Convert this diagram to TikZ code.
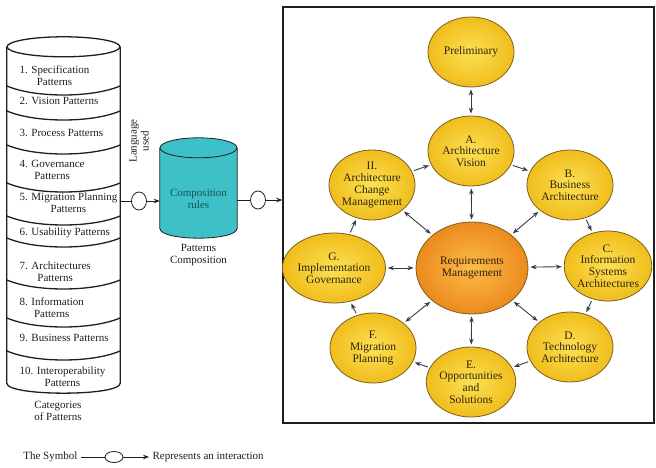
\documentclass[tikz,border=0pt]{standalone}
\usepackage{fontspec}
\setmainfont{Liberation Serif}
\usepackage{tikz}
\usetikzlibrary{positioning,calc,shapes.geometric,arrows.meta}
\usepackage{xcolor}
\definecolor{ink}{RGB}{30,30,30}
\definecolor{wire}{RGB}{55,60,72}
\definecolor{sunlight}{RGB}{253,224,84}
\definecolor{sundark}{RGB}{240,189,28}
\definecolor{rim}{RGB}{125,95,30}
\definecolor{emberlight}{RGB}{251,188,72}
\definecolor{emberdark}{RGB}{236,138,28}
\definecolor{lagoon}{RGB}{62,192,200}
\definecolor{lagoontext}{RGB}{25,80,85}
\definecolor{phasetext}{RGB}{45,35,15}

\begin{document}
\begin{tikzpicture}[
  x=1pt, y=-1pt,
  >={Stealth[length=6pt,width=4.5pt]},
  phase/.style={ellipse, draw=rim, line width=0.8pt, inner color=sunlight,
    outer color=sundark, minimum width=86pt, minimum height=70pt,
    align=center, inner sep=0pt, text=phasetext,
    font=\fontsize{11.5}{11.7}\selectfont},
  patt/.style={anchor=west, align=center, text=ink,
    font=\fontsize{11}{12}\selectfont},
  caption/.style={align=center, text=ink, font=\fontsize{11}{12}\selectfont},
  bead/.style={ellipse, draw=ink, thick, minimum width=15pt,
    minimum height=18pt, inner sep=0pt},
  link/.style={draw=wire, line width=0.9pt, shorten >=2pt, shorten <=2pt},
  wall/.style={draw=ink, line width=1.3pt}
]
  \useasboundingbox (0,0) rectangle (656,468);

  % categories of patterns (left cylinder)
  \node[minimum width=113pt, minimum height=336pt, inner sep=0pt] (cat) at (63.5,215) {};
  \draw[wall] (cat.north west) -- (cat.south west)
    .. controls +(0,13.3) and +(0,13.3) .. (cat.south east) -- (cat.north east);
  \draw[wall] (cat.north) ellipse [x radius=56.5pt, y radius=10pt];
  \foreach \y in {86,111,145,183,216,238,280,318,351}
    \draw[wall] (7,\y) .. controls (35,\y+12) and (92,\y+12) .. (120,\y);

  \node[patt] (p1) at (16,76) {1. Specification\\Patterns};
  \node[patt] (p2) at (16,101) {2. Vision Patterns};
  \node[patt] (p3) at (16,133) {3. Process Patterns};
  \node[patt] (p4) at (16,170) {4. Governance\\Patterns};
  \node[patt] (p5) at (16,203) {5. Migration Planning\\Patterns};
  \node[patt] (p6) at (16,233) {6. Usability Patterns};
  \node[patt] (p7) at (16,272) {7. Architectures\\Patterns};
  \node[patt] (p8) at (16,308) {8. Information\\Patterns};
  \node[patt] (p9) at (16,338) {9. Business Patterns};
  \node[patt] (p10) at (16,377) {10. Interoperability\\Patterns};
  \node[caption] (catname) at (58,411) {Categories\\of Patterns};

  % composition (teal cylinder)
  \node[minimum width=77pt, minimum height=80pt, inner sep=0pt] (comp) at (198.5,188) {};
  \draw[draw=ink, thick, fill=lagoon] (comp.north west) -- (comp.south west)
    .. controls +(0,13.3) and +(0,13.3) .. (comp.south east) -- (comp.north east);
  \draw[draw=ink, thick, fill=lagoon] (comp.north) ellipse [x radius=38.5pt, y radius=10pt];
  \node[caption, text=lagoontext] (rules) at (198.5,199) {Composition\\rules};
  \node[caption] (compname) at (198.5,255) {Patterns\\Composition};
  \node[caption, rotate=90] (lang) at (139,141) {Language\\used};

  % interactions
  \node[bead] (b1) at (139,201) {};
  \node[bead] (b2) at (258,200) {};
  \draw[draw=ink, thick] (cat.east |- b1) -- (b1);
  \draw[draw=ink, thick, ->] (b1) -- (comp.west |- b1);
  \draw[draw=ink, thick] (comp.east |- b2) -- (b2);

  % the cycle frame
  \node[draw=ink, line width=1.5pt, minimum width=371pt, minimum height=416pt,
    inner sep=0pt] (frame) at (468.5,215) {};
  \draw[draw=ink, thick, ->] (b2) -- (frame.west |- b2);

  % phases
  \node[phase] (prelim) at (471,52) {Preliminary};
  \node[phase] (vision) at (471,151) {A.\\Architecture\\Vision};
  \node[phase] (change) at (372,185) {II.\\Architecture\\Change\\Management};
  \node[phase] (business) at (570,185) {B.\\Business\\Architecture};
  \node[phase, inner color=emberlight, outer color=emberdark,
    minimum width=112pt, minimum height=92pt] (req) at (472,268) {Requirements\\Management};
  \node[phase] (govern) at (334,268) {G.\\Implementation\\Governance};
  \node[phase] (infosys) at (608,266) {C.\\Information\\Systems\\Architectures};
  \node[phase] (migrate) at (373,348) {F.\\Migration\\Planning};
  \node[phase] (techno) at (570,347) {D.\\Technology\\Architecture};
  \node[phase] (opport) at (471,382) {E.\\Opportunities\\and\\Solutions};

  % ring and spokes
  \draw[link, <->] (prelim) -- (vision);
  \foreach \a/\b in {change/vision, vision/business, business/infosys,
      infosys/techno, techno/opport, opport/migrate, migrate/govern, govern/change}
    \draw[link, ->] (\a) -- (\b);
  \foreach \n in {vision, business, infosys, techno, opport, migrate, govern, change}
    \draw[link, <->] (req) -- (\n);

  % legend
  \node[caption, anchor=east] (sym) at (81,457) {The Symbol};
  \node[bead, minimum width=18pt, minimum height=11pt] (lbead) at (114,457) {};
  \node[caption, anchor=west] (means) at (149,457) {Represents an interaction};
  \draw[draw=ink, thick] (sym) -- (lbead);
  \draw[draw=ink, thick, ->] (lbead) -- (means);
\end{tikzpicture}
\end{document}
